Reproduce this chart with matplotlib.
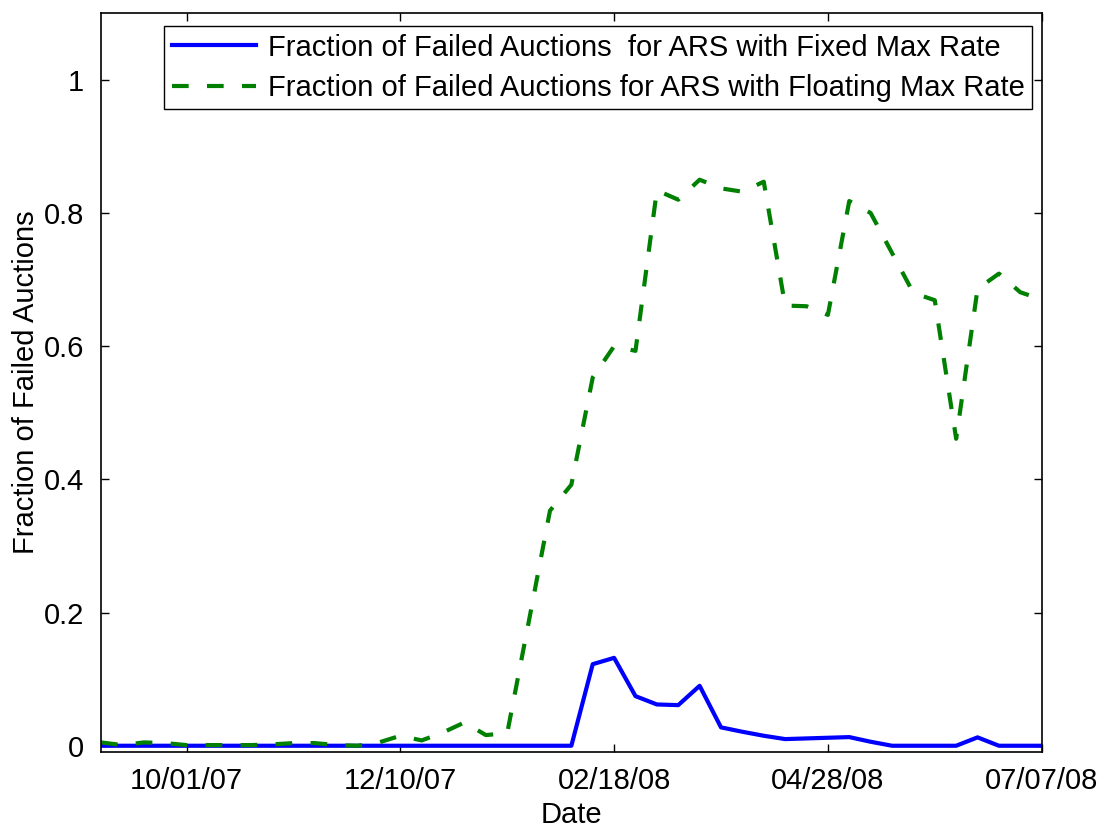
import pandas as pd
import matplotlib
matplotlib.use('Agg')
import matplotlib.pyplot as plt

plt.rcParams['font.family'] = ['Liberation Sans', 'DejaVu Sans']

# weekly auction dates (Mondays)
first_week = '2007-09-03'
n_weeks = 45

# fraction of failed auctions, ARS with fixed max rate
fixed_rate = [0, 0, 0, 0, 0, 0, 0, 0, 0, 0,
              0, 0, 0, 0, 0, 0, 0, 0, 0, 0,
              0, 0, 0, 0.1225, 0.132, 0.0745, 0.062, 0.061, 0.090, 0.0276,
              0.021, 0.015, 0.010, 0.011, 0.012, 0.013, 0.006, 0, 0, 0,
              0, 0.0126, 0, 0, 0]

# fraction of failed auctions, ARS with floating max rate
floating_rate = [0.005, 0.001, 0.005, 0.004, 0.001, 0.001, 0.001, 0.001, 0.002, 0.004,
                 0.004, 0.001, 0.0, 0.005, 0.015, 0.008, 0.020, 0.035, 0.016, 0.019,
                 0.185, 0.353, 0.392, 0.553, 0.600, 0.593, 0.834, 0.820, 0.850, 0.837,
                 0.832, 0.847, 0.661, 0.660, 0.647, 0.818, 0.800, 0.740, 0.680, 0.669,
                 0.461, 0.686, 0.709, 0.681, 0.670]

tick_dates = ['2007-10-01', '2007-12-10', '2008-02-18', '2008-04-28', '2008-07-07']
tick_labels = ['10/01/07', '12/10/07', '02/18/08', '04/28/08', '07/07/08']
y_ticks = [0, 0.2, 0.4, 0.6, 0.8, 1.0]
y_labels = ['0', '0.2', '0.4', '0.6', '0.8', '1']

dates = pd.date_range(first_week, periods=n_weeks, freq='7D')

fig = plt.figure(figsize=(11.03, 8.27), dpi=100)
ax = fig.add_axes([0.0916, 0.091, 0.8528, 0.893])

ax.plot(dates, fixed_rate, color='#0000ff', lw=3,
        label='Fraction of Failed Auctions  for ARS with Fixed Max Rate')
ax.plot(dates, floating_rate, color='#008000', lw=3, linestyle=(0, (4, 4.4)),
        label='Fraction of Failed Auctions for ARS with Floating Max Rate')

ax.set_xlim(dates[0], dates[-1])
ax.set_ylim(-0.009, 1.1)

ax.set_xticks(pd.to_datetime(tick_dates))
ax.set_xticklabels(tick_labels)
ax.set_yticks(y_ticks)
ax.set_yticklabels(y_labels)

ax.tick_params(direction='in', top=True, right=True, length=5.5, width=1,
               labelsize=21)
ax.tick_params(axis='x', pad=11)
ax.tick_params(axis='y', pad=12)
for s in ax.spines.values():
    s.set_linewidth(1.2)

ax.set_xlabel('Date', fontsize=21, labelpad=4)
ax.set_ylabel('Fraction of Failed Auctions', fontsize=21, labelpad=3)

leg = ax.legend(loc='upper right', bbox_to_anchor=(0.9897, 0.9824),
                borderaxespad=0, fontsize=21, handlelength=2.9,
                handletextpad=0.4, labelspacing=0.42, borderpad=0.25,
                fancybox=False, framealpha=1, edgecolor='black')
leg.get_frame().set_linewidth(1.0)

fig.savefig('out.png', dpi=100)
